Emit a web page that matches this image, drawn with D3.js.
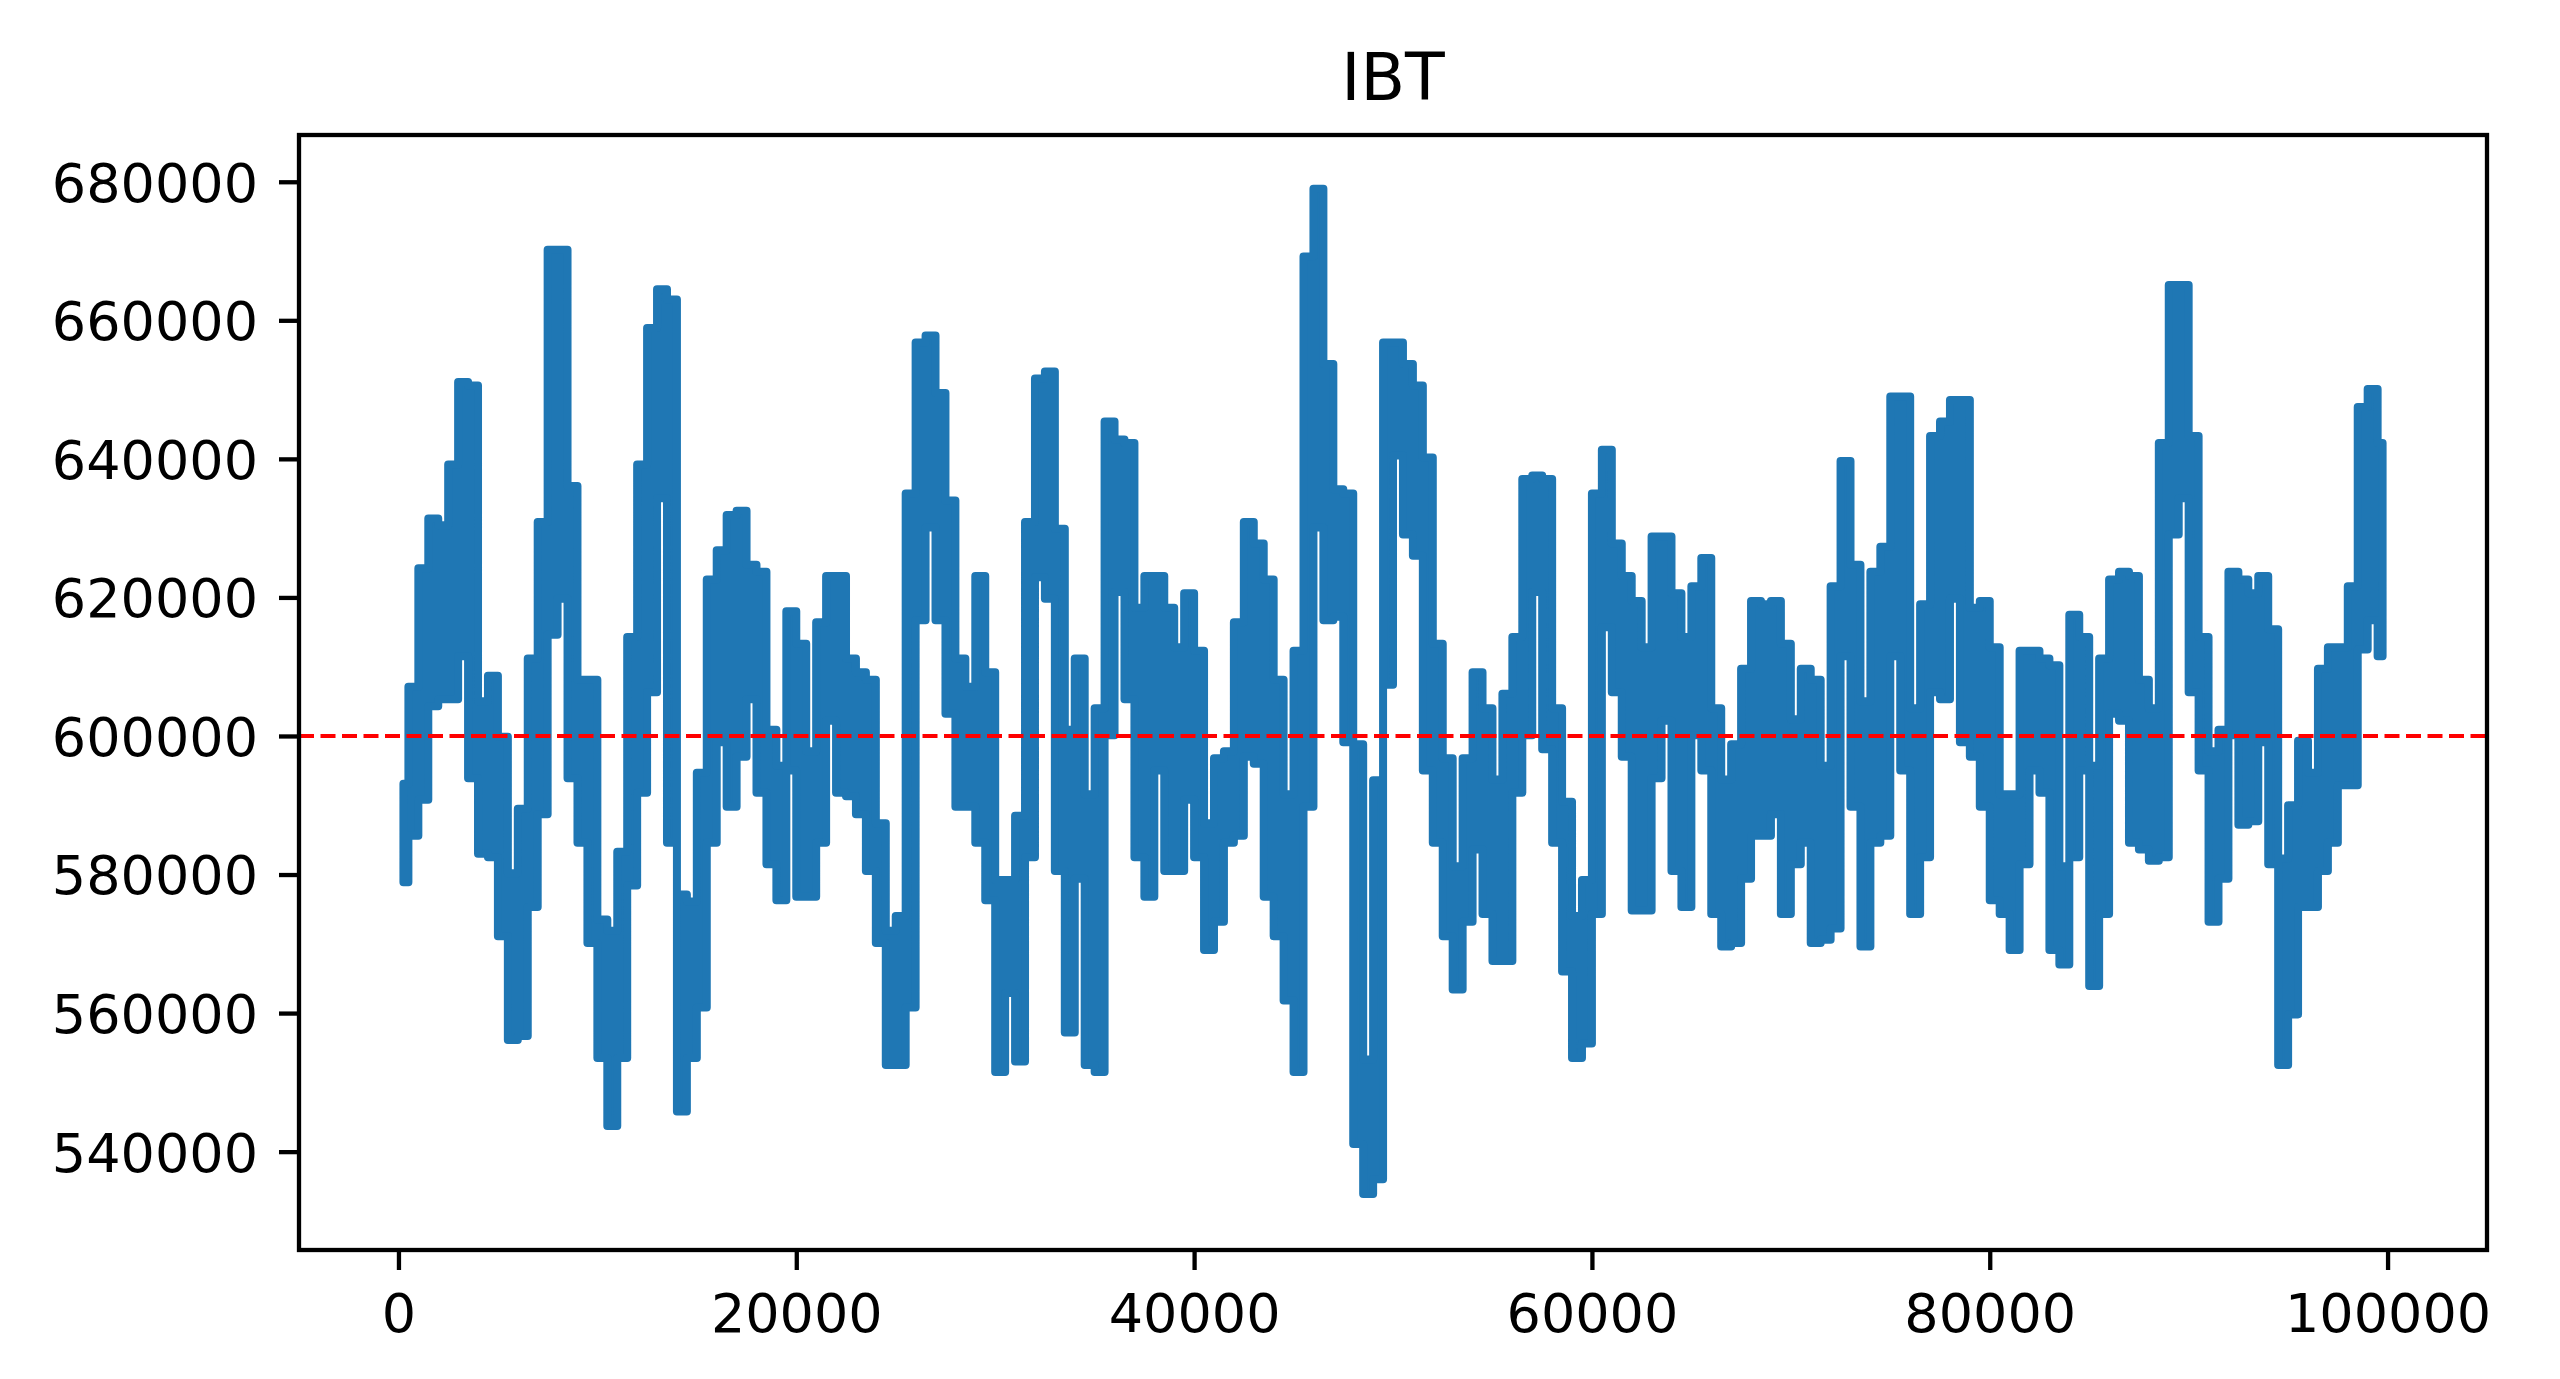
<!DOCTYPE html>
<html>
<head>
<meta charset="utf-8">
<script src="https://cdn.jsdelivr.net/npm/d3@7"></script>
<style>
  html, body { margin: 0; padding: 0; background: #ffffff; }
  svg { display: block; }
  text { font-family: "DejaVu Sans", sans-serif; fill: #000; }
</style>
</head>
<body>
<svg id="chart" width="2560" height="1379"></svg>
<script>
// ---- data ----
const chartTitle = "IBT";
const thresholdValue = 600000;
const binSize = 500;           // samples per envelope bin
const sampleCount = 100000;    // number of samples in the series
// upper envelope of each 500-sample bin
const binHigh = [
  593100,607100,624200,631400,630400,639200,651100,650600,605000,608700,
  599900,580200,589500,611200,630900,670200,670200,636100,608100,608100,
  573500,571900,583300,614300,639200,658900,664500,663000,577100,576100,
  594700,622600,626800,631900,632500,624700,623700,600900,595700,618000,
  613300,597800,616400,623100,623100,611200,609200,608100,587400,571900,
  574000,635000,656800,657800,649500,634000,611200,607100,623100,609200,
  579200,579200,588500,630900,651600,652600,629900,600900,611200,591600,
  604000,645400,642800,642300,618500,623100,623100,618500,612800,620600,
  612300,587400,596800,597800,616400,630900,627800,622600,608100,591600,
  612300,669200,679000,653700,635600,635000,598800,553300,593600,656800,
  656800,653700,650600,640200,613300,596800,581200,596800,609200,604000,
  593700,606100,614300,637100,637600,637100,604000,590500,574000,579200,
  635000,641300,627800,623100,619500,612800,628800,628800,620600,614300,
  621600,625700,604000,593700,598800,609700,619500,619000,619500,613300,
  602400,609700,608100,595700,621600,639700,624700,605000,623700,627300,
  649000,649000,604000,619000,643300,645400,648500,648500,618500,619500,
  612800,591600,591600,612300,612300,611200,610200,581200,617500,614300,
  595700,611200,622600,623700,623100,608100,604000,642300,665100,665100,
  643300,614300,597800,600900,623700,622600,620600,623100,615400,582300,
  590000,599300,594700,609700,612800,612800,621600,647500,650100,642300
];
// lower envelope of each 500-sample bin
const binLow = [
  578900,585600,590800,604300,605300,605300,611500,593900,583000,582500,
  571100,556100,556700,575300,588700,614600,619800,593900,584600,570100,
  553500,543700,553500,578400,591800,606300,634300,584600,545800,553500,
  560800,584600,599100,589800,597000,605300,591800,581500,576300,595000,
  576800,576800,584600,602200,591800,591300,588700,580500,570100,552500,
  552500,560800,616700,630100,616700,603200,589800,589800,584600,576300,
  551500,562900,553000,582500,622900,619800,580500,557200,579400,552500,
  551500,600100,620800,605300,582500,576800,595000,580500,580500,590800,
  582500,569100,573200,584600,585600,597000,596000,576800,571100,561800,
  551500,589800,630100,616700,617200,599100,541100,533900,536000,607400,
  640500,629100,626000,595000,584600,571100,563400,573200,583600,574300,
  567500,567500,591800,600100,620800,598100,584600,566000,553500,555600,
  574300,615700,606300,597000,574800,574800,593900,602200,580500,575300,
  600100,595000,574300,569600,570100,579400,585600,585600,588700,574300,
  581500,584600,570100,570600,572200,611500,589800,569600,584600,585600,
  611500,595000,574300,582500,606300,605300,619800,599100,597000,589800,
  576300,574300,569100,581500,595000,591800,569100,567000,582500,595000,
  563900,574300,603200,602200,584600,583600,582000,582500,629100,634300,
  606300,595000,573200,579400,600100,587200,587700,599100,581500,552500,
  559800,575300,575300,580500,584600,592900,592900,612500,616700,611500
];
const xTickValues = [0, 20000, 40000, 60000, 80000, 100000];
const yTickValues = [540000, 560000, 580000, 600000, 620000, 640000, 660000, 680000];

// ---- layout ----
const plotLeft = 299, plotRight = 2487, plotTop = 135, plotBottom = 1250;
const fontPx = 54, titlePx = 65;
const blue = "#1f77b4";

const svg = d3.select("#chart");
svg.append("rect").attr("width", 2560).attr("height", 1379).attr("fill", "#fff");

const x = d3.scaleLinear()
  .domain([-0.05 * (sampleCount - 1), 1.05 * (sampleCount - 1)])
  .range([plotLeft, plotRight]);
const y = d3.scaleLinear().domain([525800, 686750]).range([plotBottom, plotTop]);

// min/max envelope of the 100000-sample series, one entry per bin
const binStart = d3.range(0, sampleCount, binSize);
const bins = binStart.map((s, k) => ({ i: s + binSize / 2, lo: binLow[k], hi: binHigh[k] }));

const band = d3.area()
  .x(d => x(d.i))
  .y0(d => y(d.lo))
  .y1(d => y(d.hi))
  .curve(d3.curveStep);

svg.append("path")
  .datum(bins)
  .attr("d", band)
  .attr("fill", blue)
  .attr("stroke", blue)
  .attr("stroke-width", 8)
  .attr("stroke-linejoin", "round");

// threshold line
svg.append("line")
  .attr("x1", plotLeft).attr("x2", plotRight)
  .attr("y1", y(thresholdValue)).attr("y2", y(thresholdValue))
  .attr("stroke", "#ff0000")
  .attr("stroke-width", 4)
  .attr("stroke-dasharray", "15,6.5");

// axes
const xAxis = d3.axisBottom(x).tickValues(xTickValues).tickFormat(d3.format("d"))
  .tickSize(20).tickPadding(24);
const gx = svg.append("g").attr("transform", `translate(0,${plotBottom})`).call(xAxis);
gx.select(".domain").remove();
gx.selectAll(".tick line").attr("stroke", "#000").attr("stroke-width", 4.3);
gx.selectAll(".tick text").attr("font-size", fontPx).attr("font-family", "DejaVu Sans")
  .attr("y", 44).attr("dy", "0.71em");

const yAxis = d3.axisLeft(y).tickValues(yTickValues).tickFormat(d3.format("d"))
  .tickSize(20).tickPadding(21);
const gy = svg.append("g").attr("transform", `translate(${plotLeft},0)`).call(yAxis);
gy.select(".domain").remove();
gy.selectAll(".tick line").attr("stroke", "#000").attr("stroke-width", 4.3);
gy.selectAll(".tick text").attr("font-size", fontPx).attr("font-family", "DejaVu Sans")
  .attr("x", -41).attr("dy", "0.36em");

// spines
svg.append("rect")
  .attr("x", plotLeft).attr("y", plotTop)
  .attr("width", plotRight - plotLeft).attr("height", plotBottom - plotTop)
  .attr("fill", "none").attr("stroke", "#000").attr("stroke-width", 4.3);

// title
svg.append("text")
  .attr("x", (plotLeft + plotRight) / 2).attr("y", 100)
  .attr("text-anchor", "middle")
  .attr("font-size", titlePx)
  .text(chartTitle);
</script>
</body>
</html>
